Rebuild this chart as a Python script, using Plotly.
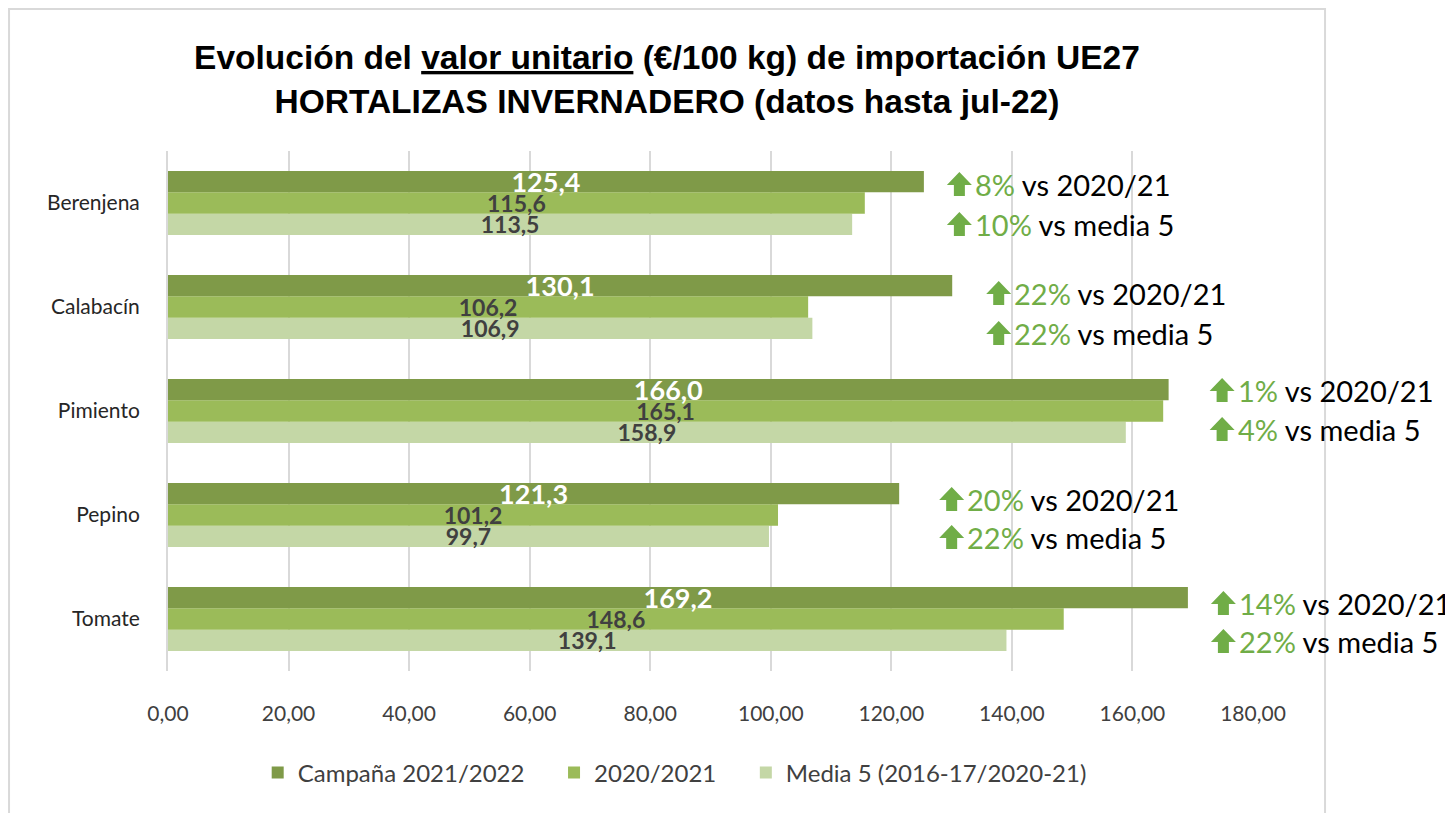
import plotly.graph_objects as go

categories = ["Berenjena", "Calabacín", "Pimiento", "Pepino", "Tomate"]
campana_2122 = [125.4, 130.1, 166.0, 121.3, 169.2]
campana_2021 = [115.6, 106.2, 165.1, 101.2, 148.6]
media5 = [113.5, 106.9, 158.9, 99.7, 139.1]
var_vs_2021 = ["8%", "22%", "1%", "20%", "14%"]
var_vs_media = ["10%", "22%", "4%", "22%", "22%"]
tick_vals = [0, 20, 40, 60, 80, 100, 120, 140, 160, 180]
tick_text = ["0,00", "20,00", "40,00", "60,00", "80,00", "100,00", "120,00", "140,00", "160,00", "180,00"]

series_names = ["Campaña 2021/2022", "2020/2021", "Media 5 (2016-17/2020-21)"]

# ---- layout / style settings ----
legend_pad = ["\u00a0" * 4, "\u00a0" * 4, ""]
colors = ["#7f9a48", "#9bbb59", "#c4d7a6"]
GREEN = "#70ad47"
FONT = "Lato, 'Open Sans', sans-serif"
# pixel offsets of the comment boxes (gap after bar end, line 1 / line 2 vertical offsets, up = +)
box_dx = [23, 34, 41, 40, 23]
box_dy1 = [19, 14, 21, 16, 16]
box_dy2 = [-21, -26, -18, -22, -22]

def fmt(v):
    return f"{v:.1f}".replace(".", ",")

def arrow_path(dx, dy, w=25, h=24, head=13, stem=11):
    cx = dx + w / 2
    top, base, bot = dy + h / 2, dy + h / 2 - head, dy - h / 2
    pts = [(cx, top), (cx + w / 2, base), (cx + stem / 2, base), (cx + stem / 2, bot),
           (cx - stem / 2, bot), (cx - stem / 2, base), (cx - w / 2, base)]
    return "M " + " L ".join(f"{x:.1f},{y:.1f}" for x, y in pts) + " Z"

cat_axis_order = categories[::-1]  # bottom -> top

fig = go.Figure()
series = [campana_2122, campana_2021, media5]
# add traces bottom-most first so that upper bars' labels are drawn on top
for i in [2, 1, 0]:
    vals = series[i]
    fig.add_trace(go.Bar(
        y=categories, x=vals, orientation="h", name=series_names[i] + legend_pad[i],
        marker=dict(color=colors[i], line=dict(width=0)),
        text=[fmt(v) for v in vals],
        textposition="inside", insidetextanchor="middle",
        constraintext="none", cliponaxis=False,
        textfont=dict(family=FONT, size=27 if i == 0 else 23, weight="bold",
                      color="#ffffff" if i == 0 else "#404040"),
        hoverinfo="skip",
    ))

for k, (cat, v, p1, p2) in enumerate(zip(categories, campana_2122, var_vs_2021, var_vs_media)):
    ypos = cat_axis_order.index(cat)
    for dy, pct, tail in ((box_dy1[k], p1, " vs 2020/21"), (box_dy2[k], p2, " vs media 5")):
        fig.add_shape(type="path", xref="x", yref="y",
                      xsizemode="pixel", ysizemode="pixel", xanchor=v, yanchor=ypos,
                      path=arrow_path(box_dx[k], dy),
                      fillcolor=GREEN, line=dict(width=0), layer="above")
        fig.add_annotation(x=v, y=cat, xref="x", yref="y", xanchor="left", yanchor="middle",
                           xshift=box_dx[k] + 26, yshift=dy, showarrow=False,
                           text=f"<span style='color:{GREEN}'>{pct}</span>{tail}",
                           font=dict(family=FONT, size=29, color="#000000"))

fig.add_shape(type="rect", xref="paper", yref="paper",
              x0=-0.1465, x1=1.0664, y0=-0.30, y1=1.273,
              line=dict(color="#d9d9d9", width=2), layer="below")

fig.update_layout(
    width=1453, height=813,
    margin=dict(l=160, r=208, t=143, b=150),
    paper_bgcolor="white", plot_bgcolor="white",
    barmode="group", bargap=0.385, bargroupgap=0,
    title=dict(text="Evolución del <u>valor unitario</u> (€/100 kg) de importación UE27<br>HORTALIZAS INVERNADERO (datos hasta jul-22)",
               x=0.4535, xanchor="center", y=0.925, yanchor="middle",
               font=dict(family="'Liberation Sans Narrow', 'Arial Narrow', sans-serif", size=33.5, color="#000000", weight="bold")),
    showlegend=True,
    legend=dict(orientation="h", x=0.467, xanchor="center", y=-0.196, yanchor="middle",
                font=dict(family=FONT, size=24, color="#404040"), traceorder="reversed",
                itemwidth=30),
    xaxis=dict(range=[0, 180], tickvals=tick_vals, ticktext=tick_text,
               showgrid=True, gridcolor="#d9d9d9", gridwidth=2, zeroline=False,
               showline=False, ticks="", ticklabelstandoff=28,
               tickfont=dict(family=FONT, size=21, color="#404040")),
    yaxis=dict(categoryorder="array", categoryarray=cat_axis_order,
               showline=True, linecolor="#d9d9d9", linewidth=2,
               ticks="", ticklabelstandoff=22,
               tickfont=dict(family=FONT, size=21, color="#262626")),
)

fig.write_html("out.html")
